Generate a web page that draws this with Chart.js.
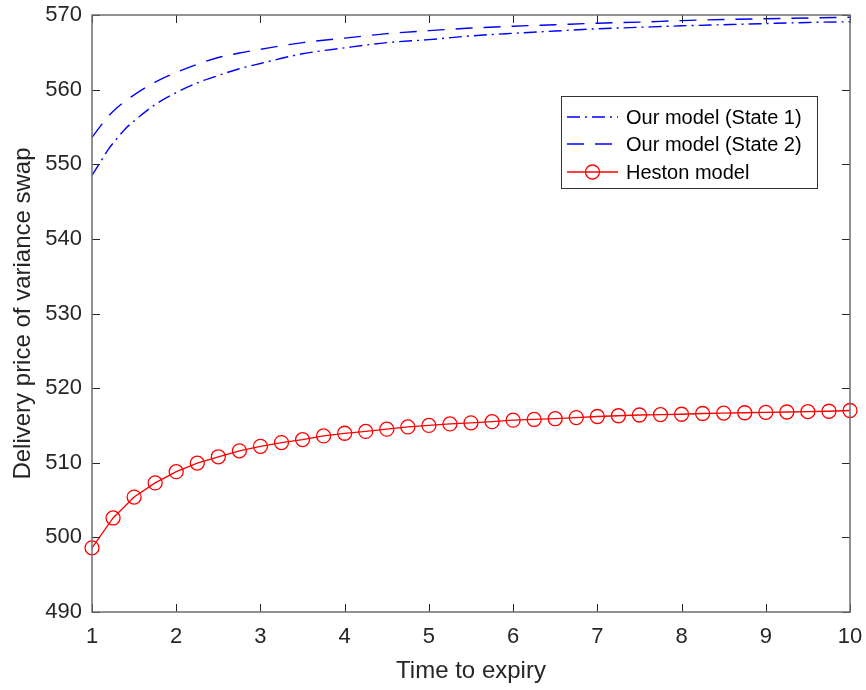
<!DOCTYPE html>
<html>
<head>
<meta charset="utf-8">
<script src="https://cdn.jsdelivr.net/npm/chart.js@4.4.0/dist/chart.umd.min.js"></script>
<style>
  html, body { margin: 0; padding: 0; background: #fff; }
  #wrap { width: 866px; height: 690px; }
</style>
</head>
<body>
<div id="wrap"><canvas id="chart" width="866" height="690"></canvas></div>
<script>
// ---- data ----
const modelTimes = [1, 1.1, 1.2, 1.3, 1.4, 1.5, 1.75, 2, 2.25, 2.5, 2.75, 3, 3.5, 4, 4.5, 5, 5.5, 6, 6.5, 7, 7.5, 8, 8.5, 9, 9.5, 10];
const state1 = [548.5, 550.3, 552.1, 553.5, 554.8, 555.8, 558.0, 559.6, 560.9, 561.9, 562.8, 563.5, 564.8, 565.6, 566.3, 566.7, 567.2, 567.55, 567.85, 568.15, 568.35, 568.55, 568.7, 568.85, 569.0, 569.1];
const state2 = [553.6, 555.1, 556.5, 557.6, 558.5, 559.3, 561.0, 562.3, 563.4, 564.3, 564.9, 565.4, 566.3, 566.9, 567.5, 567.9, 568.25, 568.5, 568.7, 568.9, 569.05, 569.25, 569.4, 569.5, 569.6, 569.7];

const hestonTimes = [1, 1.25, 1.5, 1.75, 2, 2.25, 2.5, 2.75, 3, 3.25, 3.5, 3.75, 4, 4.25, 4.5, 4.75, 5, 5.25, 5.5, 5.75, 6, 6.25, 6.5, 6.75, 7, 7.25, 7.5, 7.75, 8, 8.25, 8.5, 8.75, 9, 9.25, 9.5, 9.75, 10];
const heston = [498.6, 502.6, 505.4, 507.3, 508.8, 509.95, 510.8, 511.6, 512.2, 512.7, 513.1, 513.6, 513.95, 514.2, 514.5, 514.8, 515.0, 515.2, 515.35, 515.5, 515.7, 515.8, 515.9, 516.05, 516.2, 516.3, 516.4, 516.45, 516.5, 516.6, 516.65, 516.7, 516.75, 516.8, 516.85, 516.9, 517.0];

const xTicks = [1, 2, 3, 4, 5, 6, 7, 8, 9, 10];
const yTicks = [490, 500, 510, 520, 530, 540, 550, 560, 570];

const seriesNames = ['Our model (State 1)', 'Our model (State 2)', 'Heston model'];

const FONT = '"Liberation Sans", Arial, Helvetica, sans-serif';
const TEXT = '#262626';

function pairs(xs, ys) {
  return xs.map((x, i) => ({ x: x, y: ys[i] }));
}

// MATLAB-style box with inward ticks on all four sides
const boxPlugin = {
  id: 'boxPlugin',
  afterDatasetsDraw(chart) {
    const { ctx, chartArea: a, scales } = chart;
    ctx.save();
    ctx.strokeStyle = '#262626';
    ctx.lineWidth = 1;
    const len = 8;
    ctx.beginPath();
    xTicks.forEach(v => {
      const px = Math.round(scales.x.getPixelForValue(v)) + 0.5;
      ctx.moveTo(px, a.bottom); ctx.lineTo(px, a.bottom - len);
      ctx.moveTo(px, a.top); ctx.lineTo(px, a.top + len);
    });
    yTicks.forEach(v => {
      const py = Math.round(scales.y.getPixelForValue(v)) + 0.5;
      ctx.moveTo(a.left, py); ctx.lineTo(a.left + len, py);
      ctx.moveTo(a.right, py); ctx.lineTo(a.right - len, py);
    });
    ctx.stroke();
    ctx.strokeStyle = '#6e6e6e';
    ctx.lineWidth = 1.5;
    ctx.strokeRect(a.left, a.top, a.right - a.left, a.bottom - a.top);
    ctx.restore();
  }
};

// legend box in the upper right, like the original figure
const legendPlugin = {
  id: 'legendPlugin',
  afterDraw(chart) {
    const ctx = chart.ctx;
    const bx = 561, by = 96, bw = 256, bh = 92;
    ctx.save();
    ctx.fillStyle = '#fff';
    ctx.fillRect(bx, by, bw, bh);
    ctx.strokeStyle = '#333';
    ctx.lineWidth = 1;
    ctx.strokeRect(bx + 0.5, by + 0.5, bw, bh);
    const rows = [117, 144, 172];
    chart.data.datasets.forEach((ds, i) => {
      const y = rows[i];
      ctx.strokeStyle = ds.borderColor;
      ctx.lineWidth = ds.borderWidth;
      ctx.setLineDash(ds.borderDash || []);
      ctx.beginPath();
      ctx.moveTo(567, y);
      ctx.lineTo(618, y);
      ctx.stroke();
      ctx.setLineDash([]);
      if (ds.pointRadius > 0) {
        ctx.lineWidth = ds.pointBorderWidth;
        ctx.beginPath();
        ctx.arc(592.5, y, ds.pointRadius, 0, Math.PI * 2);
        ctx.stroke();
      }
      ctx.fillStyle = '#000';
      ctx.font = '20px ' + FONT;
      ctx.textBaseline = 'middle';
      ctx.fillText(ds.label, 626, y + 1);
    });
    ctx.restore();
  }
};

const ctx = document.getElementById('chart').getContext('2d');
new Chart(ctx, {
  type: 'line',
  data: {
    datasets: [
      {
        label: seriesNames[0],
        data: pairs(modelTimes, state1),
        borderColor: '#0000ff',
        borderWidth: 1.4,
        borderDash: [13, 5, 2, 5],
        pointRadius: 0,
        cubicInterpolationMode: 'monotone',
        fill: false
      },
      {
        label: seriesNames[1],
        data: pairs(modelTimes, state2),
        borderColor: '#0000ff',
        borderWidth: 1.4,
        borderDash: [17, 11],
        pointRadius: 0,
        cubicInterpolationMode: 'monotone',
        fill: false
      },
      {
        label: seriesNames[2],
        data: pairs(hestonTimes, heston),
        borderColor: '#ff0000',
        borderWidth: 1.3,
        pointRadius: 7,
        pointBorderWidth: 1.3,
        pointBorderColor: '#ff0000',
        pointBackgroundColor: 'rgba(0,0,0,0)',
        tension: 0,
        clip: false,
        fill: false
      }
    ]
  },
  options: {
    responsive: false,
    animation: false,
    layout: { padding: { left: 0, right: 16, top: 15, bottom: 0 } },
    plugins: {
      legend: { display: false },
      tooltip: { enabled: false }
    },
    scales: {
      x: {
        type: 'linear',
        min: 1,
        max: 10,
        afterFit: s => { s.height = 78; s.paddingLeft = 0; s.paddingRight = 0; },
        afterBuildTicks: s => { s.ticks = xTicks.map(v => ({ value: v })); },
        grid: { drawOnChartArea: false, drawTicks: false },
        border: { display: false },
        ticks: { color: TEXT, font: { family: FONT, size: 22 }, padding: 12, maxRotation: 0 },
        title: { display: true, text: 'Time to expiry', color: TEXT, font: { family: FONT, size: 24 }, padding: { top: 0, bottom: 4 } }
      },
      y: {
        type: 'linear',
        min: 490,
        max: 570,
        afterFit: s => { s.width = 92; s.paddingTop = 0; s.paddingBottom = 0; },
        afterBuildTicks: s => { s.ticks = yTicks.map(v => ({ value: v })); },
        grid: { drawOnChartArea: false, drawTicks: false },
        border: { display: false },
        ticks: { color: TEXT, font: { family: FONT, size: 22 }, padding: 10 },
        title: { display: true, text: 'Delivery price of variance swap', color: TEXT, font: { family: FONT, size: 24 }, padding: { top: 9, bottom: 0 } }
      }
    }
  },
  plugins: [boxPlugin, legendPlugin]
});
</script>
</body>
</html>
